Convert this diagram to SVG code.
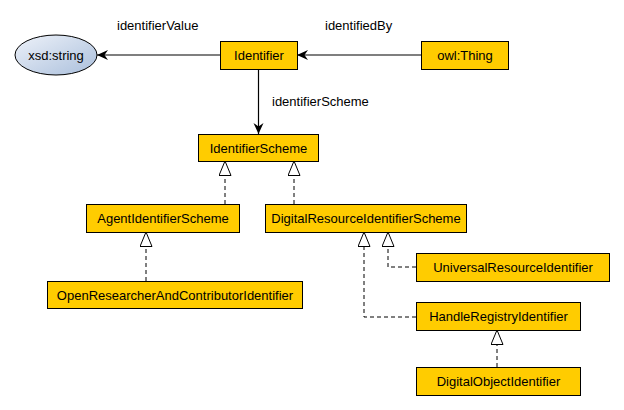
<svg xmlns="http://www.w3.org/2000/svg" width="624" height="410" viewBox="0 0 624 410">
<style>
.box{fill:#FFCC00;stroke:#000;stroke-width:1}
.t{font-family:"Liberation Sans",Arial,sans-serif;font-size:13px;fill:#000;text-anchor:middle}
.lbl{font-family:"Liberation Sans",Arial,sans-serif;font-size:13px;fill:#000}
.prop{fill:none;stroke:#000;stroke-width:1.2;marker-end:url(#arr)}
.sub{fill:none;stroke:#000;stroke-width:1;stroke-dasharray:4,3;marker-end:url(#tri)}
</style>
<defs>
<linearGradient id="g" x1="0" y1="0" x2="1" y2="1">
<stop offset="0" stop-color="#eef2f9"/>
<stop offset="1" stop-color="#aabfdc"/>
</linearGradient>
<marker id="arr" markerUnits="userSpaceOnUse" markerWidth="12" markerHeight="11" refX="11" refY="5" orient="auto">
<path d="M0,0 L11,5 L0,10 L3.5,5 z" fill="#000"/>
</marker>
<marker id="tri" markerUnits="userSpaceOnUse" markerWidth="16" markerHeight="14" refX="15" refY="6.5" orient="auto">
<path d="M0.5,0.5 L15,6.5 L0.5,12.5 z" fill="#fff" stroke="#000" stroke-width="1"/>
</marker>
</defs>
<rect width="624" height="410" fill="#fff"/>
<g id="connectors">
<line class="prop" x1="220" y1="55" x2="97" y2="55"/>
<line class="prop" x1="421" y1="55" x2="297" y2="55"/>
<line class="prop" x1="258.5" y1="69" x2="258.5" y2="134"/>
<line class="sub" x1="225" y1="204" x2="225" y2="161"/>
<line class="sub" x1="294" y1="204" x2="294" y2="161"/>
<line class="sub" x1="146" y1="281" x2="146" y2="232"/>
<path class="sub" d="M416,267 H388 V232"/>
<path class="sub" d="M416,317 H364 V232"/>
<line class="sub" x1="497" y1="367" x2="497" y2="330"/>
<text class="lbl" x="117" y="30">identifierValue</text>
<text class="lbl" x="325" y="30">identifiedBy</text>
<text class="lbl" x="272" y="106">identifierScheme</text>
</g>
<g id="xsd-string">
<ellipse cx="56" cy="55" rx="41" ry="20" fill="url(#g)" stroke="#000"/>
<text class="t" x="56" y="59.5">xsd:string</text>
</g>
<g id="Identifier">
<rect class="box" x="220.5" y="41.5" width="77" height="28"/>
<text class="t" x="259" y="60">Identifier</text>
</g>
<g id="owl-Thing">
<rect class="box" x="421.5" y="41.5" width="87" height="28"/>
<text class="t" x="465" y="60">owl:Thing</text>
</g>
<g id="IdentifierScheme">
<rect class="box" x="198.5" y="134.5" width="120" height="27"/>
<text class="t" x="258.5" y="152.5">IdentifierScheme</text>
</g>
<g id="AgentIdentifierScheme">
<rect class="box" x="86.5" y="204.5" width="153" height="28"/>
<text class="t" x="163" y="223">AgentIdentifierScheme</text>
</g>
<g id="DigitalResourceIdentifierScheme">
<rect class="box" x="265.5" y="204.5" width="201" height="28"/>
<text class="t" x="366" y="223">DigitalResourceIdentifierScheme</text>
</g>
<g id="OpenResearcherAndContributorIdentifier">
<rect class="box" x="47.5" y="281.5" width="255" height="27"/>
<text class="t" x="175" y="299.5">OpenResearcherAndContributorIdentifier</text>
</g>
<g id="UniversalResourceIdentifier">
<rect class="box" x="416.5" y="253.5" width="193" height="28"/>
<text class="t" x="513" y="272">UniversalResourceIdentifier</text>
</g>
<g id="HandleRegistryIdentifier">
<rect class="box" x="416.5" y="302.5" width="164" height="28"/>
<text class="t" x="498.5" y="321">HandleRegistryIdentifier</text>
</g>
<g id="DigitalObjectIdentifier">
<rect class="box" x="416.5" y="367.5" width="164" height="28"/>
<text class="t" x="498.5" y="386">DigitalObjectIdentifier</text>
</g>
</svg>
